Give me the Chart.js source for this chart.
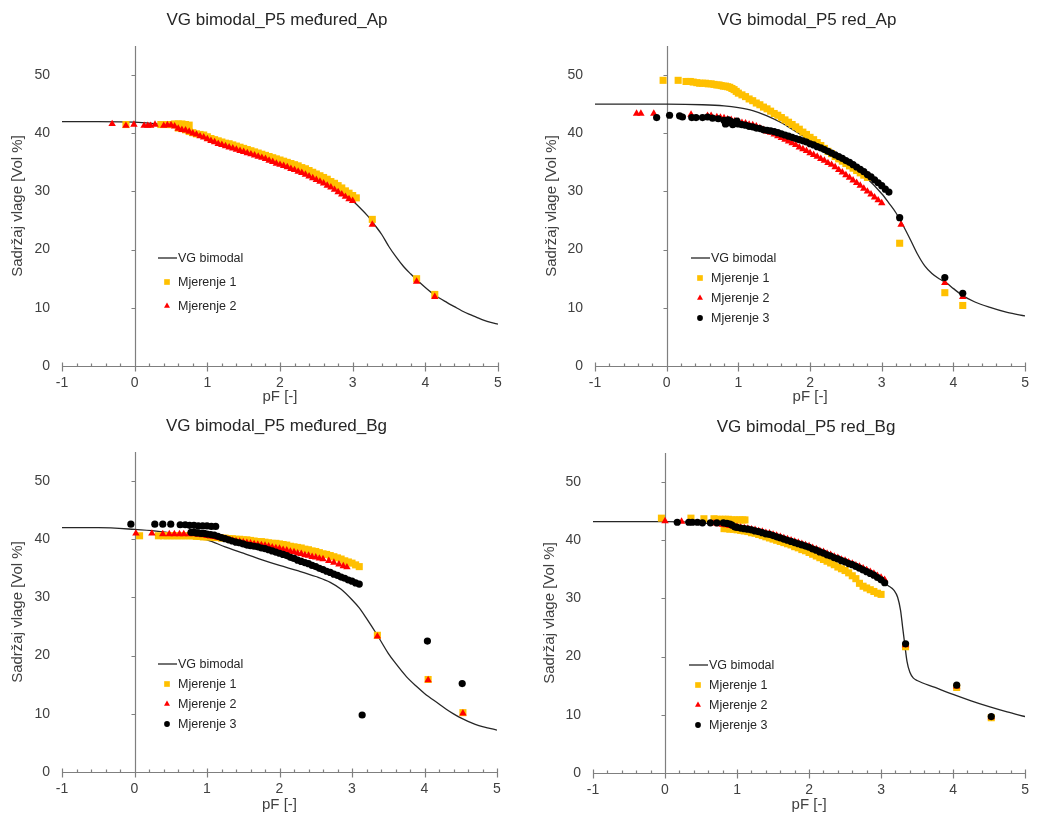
<!DOCTYPE html>
<html>
<head>
<meta charset="utf-8">
<script src="https://cdn.jsdelivr.net/npm/chart.js@4.4.1/dist/chart.umd.min.js"></script>
<style>
  body { margin: 0; background: #fff; width: 1038px; height: 814px; overflow: hidden; position: relative; }
  .panel { position: absolute; overflow: hidden; }
</style>
</head>
<body>
<div class="panel" style="left:0;top:0;width:519px;height:404px"><canvas id="c1" width="519" height="420"></canvas></div>
<div class="panel" style="left:520px;top:0;width:518px;height:404px"><canvas id="c2" width="518" height="420"></canvas></div>
<div class="panel" style="left:0;top:404px;width:519px;height:410px"><canvas id="c3" width="519" height="410"></canvas></div>
<div class="panel" style="left:520px;top:404px;width:518px;height:410px"><canvas id="c4" width="518" height="410"></canvas></div>
<script>
// axis ticks
var pfTicks = [-1, 0, 1, 2, 3, 4, 5];
var vlagaTicks = [0, 10, 20, 30, 40, 50];

var seriesNames = ['VG bimodal', 'Mjerenje 1', 'Mjerenje 2', 'Mjerenje 3'];
var titles = ['VG bimodal_P5 međured_Ap', 'VG bimodal_P5 red_Ap', 'VG bimodal_P5 međured_Bg', 'VG bimodal_P5 red_Bg'];

// P5 međured_Ap  [pF, vol %]
var medApVG = [[-1,42.0],[-0.5,42.0],[0,41.9],[0.3,41.6],[0.6,41.0],[0.8,40.3],[1.0,39.5],[1.25,38.4],[1.5,37.3],[1.75,36.2],[2.0,35.1],[2.25,33.9],[2.5,32.6],[2.7,31.2],[2.9,29.5],[3.0,28.4],[3.1,27.2],[3.2,25.9],[3.3,24.3],[3.4,22.6],[3.5,20.5],[3.6,18.7],[3.7,17.1],[3.8,15.8],[3.9,14.6],[4.0,13.5],[4.13,12.2],[4.3,10.9],[4.4,10.2],[4.5,9.5],[4.6,8.9],[4.7,8.4],[4.8,7.9],[4.9,7.5],[5.0,7.2]];
var medApM1 = [[-0.12,41.5],[0.36,41.5],[0.45,41.5],[0.5,41.5],[0.55,41.6],[0.6,41.6],[0.65,41.6],[0.7,41.5],[0.75,41.4],
  [0.6,40.9],[0.65,40.8],[0.7,40.6],[0.75,40.3],[0.8,40.1],[0.85,39.9],[0.9,39.8],[0.95,39.7],[1.0,39.4],[1.05,39.1],[1.1,38.9],[1.15,38.7],[1.2,38.5],[1.25,38.3],[1.3,38.2],[1.35,38.0],[1.4,37.8],[1.45,37.6],[1.5,37.4],[1.55,37.2],[1.6,37.0],[1.65,36.8],[1.7,36.6],[1.75,36.4],[1.8,36.2],[1.85,36.0],[1.9,35.8],[1.95,35.6],[2.0,35.4],[2.05,35.2],[2.1,35.0],[2.15,34.8],[2.2,34.6],[2.25,34.4],[2.3,34.1],[2.35,33.9],[2.4,33.6],[2.45,33.3],[2.5,33.0],[2.55,32.7],[2.6,32.4],[2.65,32.1],[2.7,31.7],[2.75,31.4],[2.8,31.0],[2.85,30.6],[2.9,30.1],[2.95,29.7],[3.0,29.3],[3.05,28.9],
  [3.27,25.2],[3.88,15.0],[4.13,12.3]];
var medApM2 = [[-0.31,41.6],[-0.12,41.3],[-0.01,41.5],[0.13,41.3],[0.18,41.3],[0.22,41.3],[0.28,41.5],[0.4,41.3],[0.45,41.4],[0.5,41.4],[0.55,41.2],
  [0.6,40.8],[0.65,40.6],[0.7,40.5],[0.75,40.3],[0.8,40.0],[0.85,39.8],[0.9,39.5],[0.95,39.3],[1.0,39.0],[1.05,38.7],[1.1,38.5],[1.15,38.2],[1.2,38.0],[1.25,37.8],[1.3,37.6],[1.35,37.4],[1.4,37.2],[1.45,37.0],[1.5,36.8],[1.55,36.6],[1.6,36.4],[1.65,36.2],[1.7,36.0],[1.75,35.8],[1.8,35.6],[1.85,35.3],[1.9,35.1],[1.95,34.8],[2.0,34.6],[2.05,34.4],[2.1,34.2],[2.15,33.9],[2.2,33.7],[2.25,33.4],[2.3,33.2],[2.35,32.9],[2.4,32.6],[2.45,32.3],[2.5,32.0],[2.55,31.7],[2.6,31.4],[2.65,31.0],[2.7,30.7],[2.75,30.3],[2.8,29.9],[2.85,29.5],[2.9,29.1],[2.95,28.7],[3.0,28.4],
  [3.27,24.3],[3.88,14.5],[4.13,11.9]];

// P5 red_Ap
var redApVG = [[-1,45.0],[-0.5,45.0],[0,45.0],[0.5,44.9],[0.8,44.7],[1.0,44.4],[1.2,43.9],[1.4,43.0],[1.6,41.8],[1.8,40.3],[2.0,38.8],[2.2,37.3],[2.4,35.8],[2.6,34.1],[2.8,32.2],[3.0,29.6],[3.1,28.0],[3.2,26.3],[3.3,24.1],[3.4,21.7],[3.5,19.2],[3.6,17.2],[3.7,15.9],[3.8,15.0],[3.9,14.3],[4.0,13.3],[4.13,12.1],[4.3,11.0],[4.5,10.1],[4.75,9.2],[5.0,8.6]];
var redApM1 = [[-0.05,49.1],[0.16,49.1],[0.27,48.9],[0.3,48.9],[0.33,48.9],[0.37,48.8],[0.42,48.7],[0.46,48.6],[0.5,48.6],[0.54,48.6],[0.58,48.5],[0.62,48.5],[0.66,48.4],[0.7,48.3],[0.73,48.3],[0.76,48.2],[0.79,48.1],[0.82,48.1],[0.85,48.0],[0.88,47.9],[0.91,47.7],
  [0.94,47.5],[0.97,47.2],[1.0,46.9],[1.05,46.6],[1.1,46.3],[1.15,45.9],[1.2,45.6],[1.25,45.2],[1.3,44.9],[1.35,44.5],[1.4,44.2],[1.45,43.8],[1.5,43.4],[1.55,43.1],[1.6,42.7],[1.65,42.3],[1.7,41.9],[1.75,41.5],[1.8,41.1],[1.85,40.7],[1.9,40.2],[1.95,39.8],[2.0,39.3],[2.05,38.9],[2.1,38.4],[2.15,37.9],[2.2,37.4],[2.25,36.9],[2.3,36.5],[2.35,36.0],[2.4,35.6],[2.45,35.2],[2.5,34.8],[2.55,34.4],[2.6,34.0],[2.65,33.6],[2.7,33.2],[2.75,32.8],[2.8,32.4],
  [3.25,21.1],[3.88,12.6],[4.13,10.4]];
var redApM2 = [[-0.42,43.4],[-0.36,43.4],[-0.18,43.4],[0.34,43.2],[0.57,43.0],[0.62,43.0],
  [0.7,42.8],[0.75,42.7],[0.8,42.6],[0.85,42.4],[0.9,42.3],[0.95,42.1],[1.0,42.0],[1.05,41.8],[1.1,41.7],[1.15,41.5],[1.2,41.4],[1.25,41.2],[1.3,40.9],[1.35,40.6],[1.4,40.3],[1.45,40.1],[1.5,39.8],[1.55,39.5],[1.6,39.2],[1.65,38.9],[1.7,38.6],[1.75,38.3],[1.8,38.0],[1.85,37.6],[1.9,37.3],[1.95,37.0],[2.0,36.6],[2.05,36.3],[2.1,36.0],[2.15,35.6],[2.2,35.3],[2.25,34.9],[2.3,34.6],[2.35,34.2],[2.4,33.7],[2.45,33.3],[2.5,32.8],[2.55,32.4],[2.6,31.9],[2.65,31.5],[2.7,31.0],[2.75,30.5],[2.8,30.0],[2.85,29.5],[2.9,29.0],[2.95,28.5],[3.0,28.0],
  [3.27,24.3],[3.88,14.3],[4.13,11.9]];
var redApM3 = [[-0.14,42.7],[0.04,43.1],[0.18,43.0],[0.22,42.8],[0.35,42.7],[0.41,42.7],[0.5,42.7],[0.57,42.8],[0.64,42.6],[0.72,42.5],
  [0.8,42.2],[0.82,41.6],[0.85,41.8],[0.86,42.3],[0.88,42.1],[0.9,42.0],[0.92,41.5],[0.93,41.6],[0.95,41.7],[0.98,42.1],[1.0,41.6],[1.05,41.5],[1.1,41.4],[1.15,41.2],[1.2,41.1],[1.25,40.9],[1.3,40.8],[1.35,40.6],[1.4,40.5],[1.45,40.4],[1.5,40.3],[1.55,40.1],[1.6,39.9],[1.65,39.7],[1.7,39.5],[1.75,39.3],[1.8,39.1],[1.85,38.9],[1.9,38.7],[1.95,38.5],[2.0,38.2],[2.05,38.0],[2.1,37.7],[2.15,37.5],[2.2,37.2],[2.25,36.9],[2.3,36.6],[2.35,36.3],[2.4,36.0],[2.45,35.7],[2.5,35.3],[2.55,35.0],[2.6,34.6],[2.65,34.2],[2.7,33.8],[2.75,33.4],[2.8,32.9],[2.85,32.5],[2.9,32.0],[2.95,31.5],[3.0,31.0],[3.05,30.4],[3.1,29.9],
  [3.25,25.5],[3.88,15.2],[4.13,12.5]];

// P5 međured_Bg
var medBgVG = [[-1,42.0],[-0.5,42.0],[0,41.7],[0.3,41.4],[0.6,40.9],[0.8,40.5],[1.0,39.9],[1.25,38.7],[1.5,37.6],[1.75,36.5],[2.0,35.5],[2.25,34.6],[2.5,33.6],[2.7,32.6],[2.85,31.4],[3.0,29.6],[3.1,28.2],[3.2,26.4],[3.35,23.5],[3.5,20.4],[3.6,18.7],[3.75,16.4],[3.9,14.6],[4.0,13.5],[4.2,11.7],[4.3,10.8],[4.4,10.0],[4.5,9.3],[4.6,8.7],[4.7,8.2],[4.8,7.8],[4.9,7.5],[5.0,7.2]];
var medBgM1 = [[0.07,40.6],[0.33,40.6],[0.4,40.6],[0.45,40.6],[0.5,40.6],[0.55,40.6],[0.6,40.6],[0.65,40.6],[0.7,40.6],[0.75,40.6],[0.8,40.6],[0.85,40.5],[0.9,40.5],[0.95,40.4],[1.0,40.4],[1.05,40.4],[1.1,40.3],[1.15,40.3],[1.2,40.2],[1.25,40.2],[1.3,40.1],[1.35,40.1],[1.4,40.0],[1.45,40.0],[1.5,39.9],[1.55,39.9],[1.6,39.8],[1.65,39.7],[1.7,39.6],[1.75,39.6],[1.8,39.5],[1.85,39.4],[1.9,39.3],[1.95,39.3],[2.0,39.2],[2.05,39.1],[2.1,39.0],[2.15,38.8],[2.2,38.7],[2.25,38.6],[2.3,38.5],[2.35,38.3],[2.4,38.2],[2.45,38.0],[2.5,37.9],[2.55,37.7],[2.6,37.5],[2.65,37.4],[2.7,37.2],[2.75,37.0],[2.8,36.8],[2.85,36.6],[2.9,36.3],[2.95,36.1],[3.0,35.9],[3.05,35.6],[3.1,35.3],
  [3.35,23.5],[4.05,15.9],[4.53,10.2]];
var medBgM2 = [[0.02,41.0],[0.24,41.0],[0.39,40.9],[0.48,40.9],[0.55,40.9],[0.62,40.9],[0.68,40.9],[0.75,40.9],[0.82,40.9],[0.88,40.8],[0.94,40.7],[1.0,40.6],[1.05,40.5],[1.1,40.4],[1.15,40.3],[1.2,40.2],[1.25,40.1],[1.3,39.9],[1.35,39.8],[1.4,39.7],[1.45,39.6],[1.5,39.5],[1.55,39.4],[1.6,39.3],[1.65,39.2],[1.7,39.1],[1.75,39.0],[1.8,38.9],[1.85,38.8],[1.9,38.6],[1.95,38.5],[2.0,38.4],[2.05,38.2],[2.1,38.1],[2.15,37.9],[2.2,37.8],[2.25,37.6],[2.3,37.5],[2.35,37.3],[2.4,37.2],[2.45,37.0],[2.5,36.9],[2.55,36.7],[2.6,36.6],[2.68,36.3],[2.75,36.0],[2.82,35.7],[2.88,35.4],[2.93,35.2],
  [3.35,23.3],[4.05,15.8],[4.53,10.1]];
var medBgM3 = [[-0.05,42.6],[0.28,42.6],[0.39,42.6],[0.5,42.6],[0.63,42.5],[0.7,42.5],[0.76,42.4],[0.82,42.4],[0.88,42.3],[0.94,42.3],[1.0,42.3],[1.06,42.2],[1.12,42.2],
  [0.78,41.2],[0.82,41.2],[0.85,41.1],[0.88,41.1],[0.92,41.0],[0.96,41.0],[1.0,40.9],[1.05,40.8],[1.1,40.7],[1.15,40.5],[1.2,40.3],[1.25,40.1],[1.3,39.9],[1.35,39.7],[1.4,39.5],[1.45,39.4],[1.5,39.2],[1.55,39.0],[1.6,38.9],[1.65,38.8],[1.7,38.7],[1.75,38.5],[1.8,38.4],[1.85,38.2],[1.9,38.0],[1.95,37.8],[2.0,37.6],[2.05,37.4],[2.1,37.2],[2.15,36.9],[2.2,36.7],[2.25,36.4],[2.3,36.2],[2.35,36.0],[2.4,35.8],[2.45,35.5],[2.5,35.3],[2.55,35.0],[2.6,34.8],[2.65,34.5],[2.7,34.3],[2.75,34.0],[2.8,33.8],[2.85,33.5],[2.9,33.3],[2.95,33.0],[3.0,32.8],[3.05,32.5],[3.1,32.3],
  [3.14,9.8],[4.04,22.5],[4.52,15.2]];

// P5 red_Bg
var redBgVG = [[-1,43.2],[0,43.2],[0.5,43.0],[0.8,42.6],[1.0,42.1],[1.25,41.6],[1.5,41.0],[1.75,40.1],[2.0,39.0],[2.25,37.6],[2.5,36.1],[2.75,34.6],[3.0,33.0],[3.1,32.2],[3.18,31.4],[3.23,30.2],[3.27,28.0],[3.3,25.0],[3.33,22.0],[3.36,19.2],[3.4,17.3],[3.45,16.3],[3.5,15.9],[3.75,14.7],[4.0,13.5],[4.25,12.4],[4.5,11.4],[4.75,10.5],[5.0,9.7]];
var redBgM1 = [[-0.05,43.8],[0.36,43.8],[0.54,43.7],[0.68,43.7],[0.72,43.6],[0.76,43.6],[0.8,43.6],[0.84,43.6],[0.88,43.6],[0.92,43.5],[0.96,43.5],[1.0,43.5],[1.04,43.5],[1.08,43.5],[1.11,43.5],
  [0.82,42.0],[0.86,42.0],[0.9,41.9],[0.95,41.9],[1.0,41.8],[1.05,41.7],[1.1,41.6],[1.15,41.5],[1.2,41.3],[1.25,41.2],[1.3,41.0],[1.35,40.8],[1.4,40.6],[1.45,40.4],[1.5,40.2],[1.55,40.0],[1.6,39.8],[1.65,39.6],[1.7,39.4],[1.75,39.2],[1.8,38.9],[1.85,38.7],[1.9,38.4],[1.95,38.2],[2.0,37.9],[2.05,37.6],[2.1,37.3],[2.15,37.0],[2.2,36.7],[2.25,36.4],[2.3,36.1],[2.35,35.8],[2.4,35.4],[2.45,35.1],[2.5,34.8],[2.55,34.4],[2.6,33.9],[2.65,33.4],[2.7,32.6],[2.75,32.1],[2.8,31.8],[2.85,31.5],[2.9,31.2],[2.95,30.9],[3.0,30.7],
  [3.34,21.7],[4.05,14.7],[4.53,9.5]];
var redBgM2 = [[0.0,43.3],[0.23,43.2],[0.68,42.9],[0.74,42.8],[0.8,42.7],[0.85,42.6],[0.9,42.5],[0.95,42.4],[1.0,42.3],[1.05,42.2],[1.1,42.1],[1.15,42.0],[1.2,41.9],[1.25,41.8],[1.3,41.6],[1.35,41.5],[1.4,41.3],[1.45,41.2],[1.5,41.0],[1.55,40.8],[1.6,40.6],[1.65,40.4],[1.7,40.2],[1.75,40.0],[1.8,39.8],[1.85,39.6],[1.9,39.4],[1.95,39.2],[2.0,39.0],[2.05,38.7],[2.1,38.5],[2.15,38.2],[2.2,38.0],[2.25,37.7],[2.3,37.5],[2.35,37.2],[2.4,37.0],[2.45,36.7],[2.5,36.5],[2.55,36.2],[2.6,36.0],[2.65,35.7],[2.7,35.5],[2.75,35.2],[2.8,34.9],[2.85,34.6],[2.9,34.3],[2.95,33.9],[3.0,33.6],[3.05,33.2],
  [3.34,22.0],[4.05,14.9],[4.53,9.6]];
var redBgM3 = [[0.17,43.1],[0.33,43.1],[0.38,43.1],[0.45,43.1],[0.52,43.0],[0.63,43.0],[0.72,43.0],[0.81,43.0],[0.86,42.9],[0.9,42.8],[0.93,42.6],[0.97,42.3],[1.0,42.2],[1.05,42.1],[1.1,42.0],[1.15,41.9],[1.2,41.8],[1.25,41.6],[1.3,41.5],[1.35,41.3],[1.4,41.1],[1.45,41.0],[1.5,40.8],[1.55,40.6],[1.6,40.4],[1.65,40.2],[1.7,40.0],[1.75,39.8],[1.8,39.6],[1.85,39.4],[1.9,39.2],[1.95,39.0],[2.0,38.8],[2.05,38.5],[2.1,38.3],[2.15,38.0],[2.2,37.8],[2.25,37.5],[2.3,37.3],[2.35,37.0],[2.4,36.8],[2.45,36.5],[2.5,36.3],[2.55,36.0],[2.6,35.8],[2.65,35.5],[2.7,35.2],[2.75,34.9],[2.8,34.6],[2.85,34.3],[2.9,34.0],[2.95,33.6],[3.0,33.2],[3.05,32.7],
  [3.34,22.2],[4.05,15.1],[4.53,9.7]];

// marker look per measurement
var markers = [
  { style: 'rect', color: '#FFC000', radius: 5 },
  { style: 'triangle', color: '#FF0000', radius: 4.3 },
  { style: 'circle', color: '#000000', radius: 3.6 }
];

var FONT = '"Liberation Sans", Arial, sans-serif';

function drawMarker(ctx, m, x, y, r) {
  ctx.fillStyle = m.color;
  ctx.beginPath();
  if (m.style === 'rect') {
    var s = r * Math.SQRT1_2;
    ctx.rect(x - s, y - s, 2 * s, 2 * s);
  } else if (m.style === 'triangle') {
    ctx.moveTo(x, y - r);
    ctx.lineTo(x + r * 0.866, y + r * 0.5);
    ctx.lineTo(x - r * 0.866, y + r * 0.5);
    ctx.closePath();
  } else {
    ctx.arc(x, y, r, 0, Math.PI * 2);
  }
  ctx.fill();
}

// excel-like axes crossing at pF = 0, chart title and legend inside the plot
var excelLook = {
  id: 'excelLook',
  beforeDatasetsDraw: function (chart) {
    var ctx = chart.ctx, a = chart.chartArea, xs = chart.scales.x, ys = chart.scales.y;
    var x0 = Math.round(xs.getPixelForValue(0)) + 0.5;
    var y0 = Math.round(ys.getPixelForValue(0)) + 0.5;
    ctx.save();
    ctx.strokeStyle = '#7f7f7f';
    ctx.lineWidth = 1.2;
    ctx.beginPath();
    ctx.moveTo(x0, a.top);
    ctx.lineTo(x0, y0);
    vlagaTicks.forEach(function (v) {
      if (v === 0) return;
      var py = Math.round(ys.getPixelForValue(v)) + 0.5;
      ctx.moveTo(x0 - 4, py);
      ctx.lineTo(x0, py);
    });
    ctx.moveTo(a.left, y0);
    ctx.lineTo(a.right, y0);
    for (var i = 0; i <= 30; i++) {
      var px = Math.round(xs.getPixelForValue(pfTicks[0] + i * 0.2)) + 0.5;
      if (i % 5 === 0) { ctx.moveTo(px, y0 - 4); ctx.lineTo(px, y0 + 5); }
      else { ctx.moveTo(px, y0 - 3); ctx.lineTo(px, y0); }
    }
    ctx.stroke();
    ctx.restore();
  },
  afterDraw: function (chart, args, opts) {
    var ctx = chart.ctx, a = chart.chartArea;
    ctx.save();
    ctx.fillStyle = '#262626';
    ctx.font = '17px ' + FONT;
    ctx.textAlign = 'center';
    ctx.textBaseline = 'middle';
    ctx.fillText(opts.title, (a.left + a.right) / 2 - 3, a.top - 26);

    var lx = a.left + 96, ly = a.top + 212;
    ctx.font = '12.5px ' + FONT;
    ctx.textAlign = 'left';
    for (var i = 0; i < opts.count; i++) {
      var yy = ly + i * opts.gap;
      if (i === 0) {
        ctx.strokeStyle = '#262626';
        ctx.lineWidth = 1.3;
        ctx.beginPath();
        ctx.moveTo(lx, yy);
        ctx.lineTo(lx + 19, yy);
        ctx.stroke();
      } else {
        drawMarker(ctx, markers[i - 1], lx + 9, yy, markers[i - 1].radius * 0.8);
      }
      ctx.fillStyle = '#262626';
      ctx.fillText(seriesNames[i], lx + 20, yy + 1);
    }
    ctx.restore();
  }
};

function toXY(arr) {
  return arr.map(function (p) { return { x: p[0], y: p[1] }; });
}

function makeChart(id, title, vg, meas, area, h, yTitlePad, xTitlePad, gap) {
  var canvas = document.getElementById(id);
  var datasets = [{
    type: 'line',
    label: seriesNames[0],
    data: toXY(vg),
    borderColor: '#262626',
    borderWidth: 1.3,
    pointRadius: 0,
    fill: false,
    cubicInterpolationMode: 'monotone',
    order: 5
  }];
  meas.forEach(function (m, i) {
    datasets.push({
      type: 'scatter',
      label: seriesNames[i + 1],
      data: toXY(m),
      pointStyle: markers[i].style,
      pointRadius: markers[i].radius,
      backgroundColor: markers[i].color,
      borderColor: markers[i].color,
      borderWidth: 0,
      order: 4 - i
    });
  });

  return new Chart(canvas, {
    type: 'scatter',
    data: { datasets: datasets },
    options: {
      responsive: false,
      animation: false,
      events: [],
      layout: { padding: { top: area.t, right: canvas.width - area.r, left: 0, bottom: 0 } },
      plugins: {
        legend: { display: false },
        tooltip: { enabled: false },
        excelLook: { title: title, count: meas.length + 1, gap: gap }
      },
      scales: {
        x: {
          type: 'linear',
          min: pfTicks[0],
          max: pfTicks[pfTicks.length - 1],
          afterBuildTicks: function (s) { s.ticks = pfTicks.map(function (v) { return { value: v }; }); },
          afterFit: function (s) { s.height = h - area.b; },
          grid: { display: false, drawTicks: false },
          border: { display: false },
          ticks: { padding: 9, color: '#404040', font: { size: 14, family: FONT } },
          title: { display: true, text: 'pF [-]', color: '#404040', padding: { top: 0, bottom: xTitlePad }, font: { size: 15, family: FONT } }
        },
        y: {
          type: 'linear',
          min: 0,
          max: 55,
          afterBuildTicks: function (s) { s.ticks = vlagaTicks.map(function (v) { return { value: v }; }); },
          afterFit: function (s) { s.width = area.l; },
          grid: { display: false, drawTicks: false },
          border: { display: false },
          ticks: { padding: 12, color: '#404040', font: { size: 14, family: FONT } },
          title: { display: true, text: 'Sadržaj vlage [Vol %]', color: '#404040', padding: { top: yTitlePad, bottom: 0 }, font: { size: 15, family: FONT } }
        }
      }
    },
    plugins: [excelLook]
  });
}

makeChart('c1', titles[0], medApVG, [medApM1, medApM2], { l: 62, r: 498, t: 46, b: 366 }, 420, 9, 14, 24);
makeChart('c2', titles[1], redApVG, [redApM1, redApM2, redApM3], { l: 75, r: 510, t: 46, b: 366 }, 420, 23, 14, 20);
makeChart('c3', titles[2], medBgVG, [medBgM1, medBgM2, medBgM3], { l: 62, r: 497, t: 48, b: 368 }, 410, 9, 0, 20);
makeChart('c4', titles[3], redBgVG, [redBgM1, redBgM2, redBgM3], { l: 73, r: 510, t: 49, b: 369 }, 410, 21, 0, 20);
</script>
</body>
</html>
